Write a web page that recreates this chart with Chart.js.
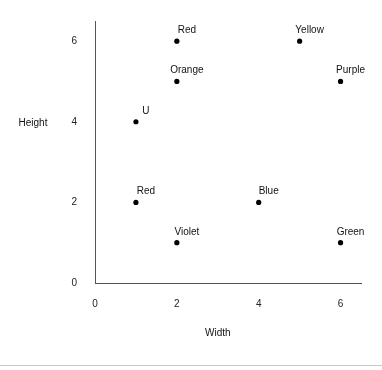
<!DOCTYPE html>
<html>
<head>
<meta charset="utf-8">
<script src="https://cdn.jsdelivr.net/npm/chart.js@4/dist/chart.umd.min.js"></script>
<style>
  html, body { margin: 0; padding: 0; background: #fff; }
  #wrap { width: 382px; height: 370px; }
</style>
</head>
<body>
<div id="wrap"><canvas id="c" width="382" height="370"></canvas></div>
<script>
const labels = ["Red", "Yellow", "Orange", "Purple", "U", "Red", "Blue", "Violet", "Green"];
const widthValues = [2, 5, 2, 6, 1, 1, 4, 2, 6];
const heightValues = [6, 6, 5, 5, 4, 2, 2, 1, 1];
const xTicks = [0, 2, 4, 6];
const yTicks = [0, 2, 4, 6];
const xTitle = "Width";
const yTitle = "Height";

const FONT = "'Liberation Sans', Arial, sans-serif";

const points = widthValues.map((w, i) => ({ x: w, y: heightValues[i] }));

const labelPlugin = {
  id: 'pointLabels',
  afterDatasetsDraw(chart) {
    const ctx = chart.ctx;
    const meta = chart.getDatasetMeta(0);
    ctx.save();
    ctx.font = "10px " + FONT;
    ctx.fillStyle = "#111";
    ctx.textAlign = "center";
    ctx.textBaseline = "alphabetic";
    meta.data.forEach((el, i) => {
      ctx.fillText(labels[i], el.x + 10, el.y - 8);
    });
    ctx.restore();
  },
  afterDraw(chart) {
    const ctx = chart.ctx;
    const area = chart.chartArea;
    ctx.save();
    ctx.font = "10px " + FONT;
    ctx.fillStyle = "#111";
    ctx.textAlign = "center";
    ctx.textBaseline = "middle";
    ctx.fillText(yTitle, 33, chart.scales.y.getPixelForValue(4) + 1);
    ctx.fillText(xTitle, chart.scales.x.getPixelForValue(3), area.bottom + 50);
    ctx.strokeStyle = "#c8c8c8";
    ctx.lineWidth = 1;
    ctx.beginPath();
    ctx.moveTo(0, 365.5);
    ctx.lineTo(chart.width, 365.5);
    ctx.stroke();
    ctx.restore();
  }
};

new Chart(document.getElementById('c'), {
  type: 'scatter',
  data: {
    datasets: [{
      data: points,
      backgroundColor: '#000',
      borderColor: '#000',
      pointRadius: 2.6,
      pointHoverRadius: 2.6,
      borderWidth: 0
    }]
  },
  options: {
    responsive: false,
    animation: false,
    devicePixelRatio: 1,
    layout: { padding: { top: 21, right: 21, left: 0, bottom: 0 } },
    plugins: { legend: { display: false }, tooltip: { enabled: false } },
    scales: {
      x: {
        type: 'linear',
        min: 0,
        max: 6.5,
        afterBuildTicks: (s) => { s.ticks = xTicks.map(v => ({ value: v })); },
        afterFit: (s) => { s.height = 87; s.paddingLeft = 0; s.paddingRight = 0; },
        grid: { display: false, drawTicks: false },
        border: { display: true, color: '#555', width: 1 },
        ticks: { color: '#222', font: { family: FONT, size: 10 }, padding: 15, maxRotation: 0 }
      },
      y: {
        type: 'linear',
        min: 0,
        max: 6.5,
        afterBuildTicks: (s) => { s.ticks = yTicks.map(v => ({ value: v })); },
        afterFit: (s) => { s.width = 95; s.paddingTop = 0; s.paddingBottom = 0; },
        grid: { display: false, drawTicks: false },
        border: { display: true, color: '#555', width: 1 },
        ticks: { color: '#222', font: { family: FONT, size: 10 }, padding: 18 }
      }
    }
  },
  plugins: [labelPlugin]
});
</script>
</body>
</html>
